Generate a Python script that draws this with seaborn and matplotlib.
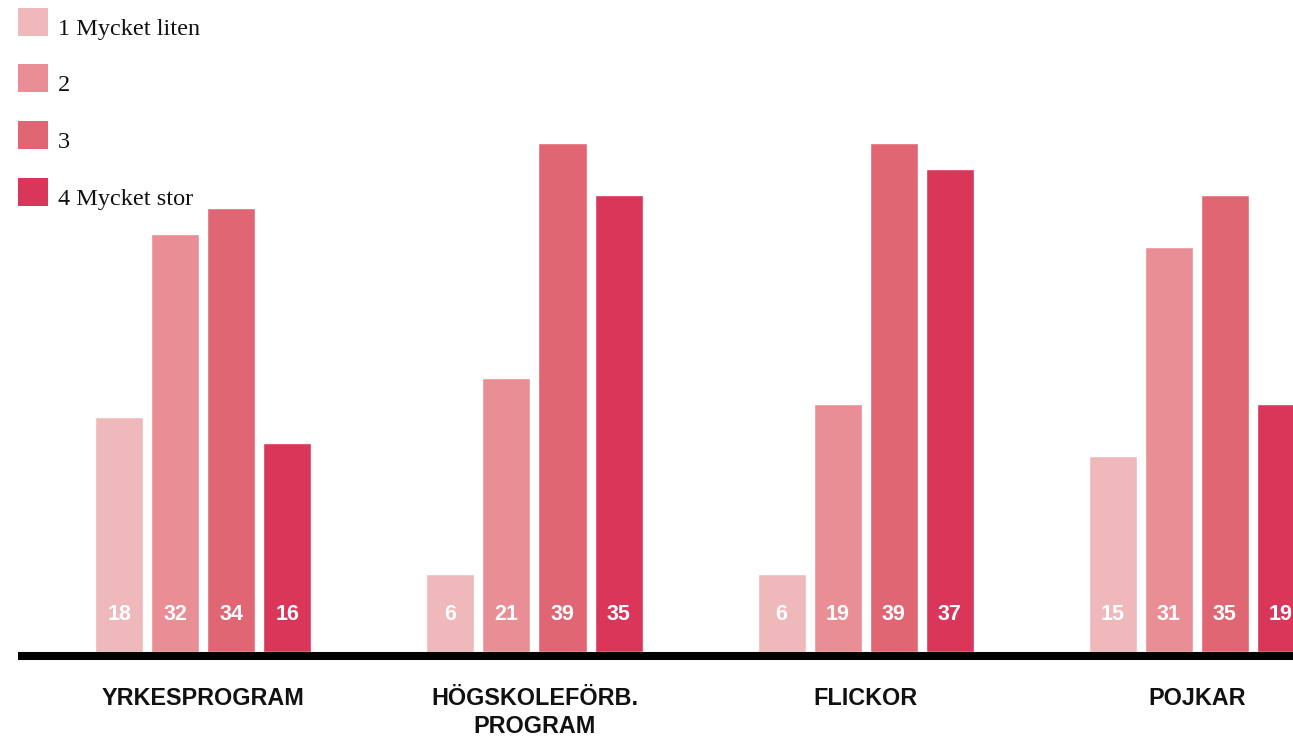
import matplotlib
matplotlib.use("Agg")
import matplotlib.pyplot as plt
from matplotlib.patches import Rectangle
import seaborn as sns
import pandas as pd

categories = ["YRKESPROGRAM", "HÖGSKOLEFÖRB.\nPROGRAM", "FLICKOR", "POJKAR"]
levels = ["1 Mycket liten", "2", "3", "4 Mycket stor"]
v_level1 = [18, 6, 6, 15]
v_level2 = [32, 21, 19, 31]
v_level3 = [34, 39, 39, 35]
v_level4 = [16, 35, 37, 19]
colors = ["#EFB8BB", "#E88E94", "#E06674", "#D9365A"]

series = [v_level1, v_level2, v_level3, v_level4]
rows = []
for lvl, vals in zip(levels, series):
    for cat, v in zip(categories, vals):
        rows.append({"kategori": cat, "niva": lvl, "andel": v})
df = pd.DataFrame(rows)

sns.set_theme(style="white")
plt.rcParams["font.family"] = ["Liberation Sans", "DejaVu Sans"]

W, H = 1293, 738
PX = 13.05  # pixels per unit
fig = plt.figure(figsize=(W / 100, H / 100), dpi=100)
ax = fig.add_axes([18 / W, 82 / H, 1 - 18 / W, 656 / H])

sns.barplot(data=df, x="kategori", y="andel", hue="niva", order=categories,
            hue_order=levels, palette=colors, width=0.677, gap=0.143,
            saturation=1, ax=ax, legend=False)

ybot = -4 / PX
ax.set_xlim(-0.560, 3.291)
ax.set_ylim(ybot, ybot + 656 / PX)
ax.set_xlabel("")
ax.set_ylabel("")
ax.set_yticks([])
for s in ["top", "right", "left"]:
    ax.spines[s].set_visible(False)
ax.spines["bottom"].set_color("black")
ax.spines["bottom"].set_linewidth(5.8)
ax.spines["bottom"].set_capstyle("butt")
ax.tick_params(axis="x", length=0, pad=22)
for lab in ax.get_xticklabels():
    lab.set_fontsize(16.8)
    lab.set_fontweight("bold")
    lab.set_color("#111111")
    lab.set_linespacing(1.32)
    lab.set_verticalalignment("top")

# value labels inside bars
bars = [p for p in ax.patches if p.get_height() > 0]
allvals = [v for vals in series for v in vals]
for p, v in zip(bars, allvals):
    ax.text(p.get_x() + p.get_width() / 2, 2.9, f"{v}", ha="center", va="center",
            color="white", fontsize=15.5, fontweight="bold")

# legend
tops = [8, 64, 121, 178]
for lvl, col, t in zip(levels, colors, tops):
    fig.patches.append(Rectangle((18 / W, 1 - (t + 28) / H), 30 / W, 28 / H,
                                 transform=fig.transFigure, facecolor=col,
                                 edgecolor="none"))
    fig.text(58 / W, 1 - (t + 27) / H, lvl, ha="left", va="baseline",
             family="Liberation Serif", fontsize=17.5, color="#111111")

fig.savefig("out.png", dpi=100)
